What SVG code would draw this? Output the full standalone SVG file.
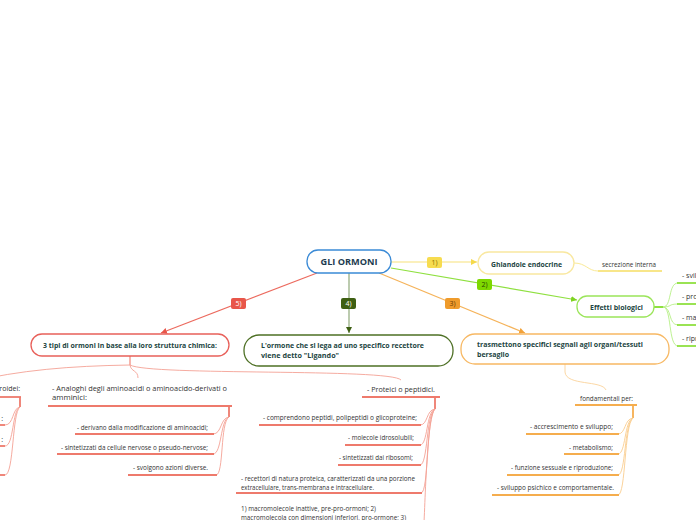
<svg xmlns="http://www.w3.org/2000/svg" width="696" height="520" viewBox="0 0 696 520">
<defs>
<marker id="aY" viewBox="0 0 6 6" refX="6" refY="3" markerWidth="6" markerHeight="6" markerUnits="userSpaceOnUse" orient="auto"><path d="M0,0 L6,3 L0,6 z" fill="#f5d949"/></marker>
<marker id="aG" viewBox="0 0 6 6" refX="6" refY="3" markerWidth="6" markerHeight="6" markerUnits="userSpaceOnUse" orient="auto"><path d="M0,0 L6,3 L0,6 z" fill="#7ed321"/></marker>
<marker id="aO" viewBox="0 0 6 6" refX="6" refY="3" markerWidth="6" markerHeight="6" markerUnits="userSpaceOnUse" orient="auto"><path d="M0,0 L6,3 L0,6 z" fill="#f2a23a"/></marker>
<marker id="aD" viewBox="0 0 6 6" refX="6" refY="3" markerWidth="6" markerHeight="6" markerUnits="userSpaceOnUse" orient="auto"><path d="M0,0 L6,3 L0,6 z" fill="#3e5f13"/></marker>
<marker id="aR" viewBox="0 0 6 6" refX="6" refY="3" markerWidth="6" markerHeight="6" markerUnits="userSpaceOnUse" orient="auto"><path d="M0,0 L6,3 L0,6 z" fill="#e8564a"/></marker>
</defs>
<style>
text{font-family:"Open Sans","Noto Sans","DejaVu Sans",sans-serif}
.nt{font-size:7.5px;font-weight:bold;fill:#22453f}
.tx{font-size:7px;fill:#333}
.lb{font-size:7px;fill:#fff;text-anchor:middle}
.box{fill:#fff;stroke-width:1.3}
.c{fill:none;stroke-width:1.2}
.thin{fill:none;stroke-width:0.9}
.ul{fill:none;stroke-width:1.8}
</style>

<g id="connectors">
<!-- main -->
<line class="c" x1="391" y1="262" x2="477" y2="262" stroke="#f7e27a" marker-end="url(#aY)"/>
<line class="c" x1="391" y1="268" x2="577" y2="300" stroke="#8fe040" marker-end="url(#aG)"/>
<line class="c" x1="379" y1="273" x2="525" y2="333" stroke="#f5b35a" marker-end="url(#aO)"/>
<line class="c" x1="349" y1="273" x2="349" y2="333" stroke="#8fa87a" marker-end="url(#aD)"/>
<line class="c" x1="317" y1="273" x2="161" y2="333" stroke="#ec6a5e" marker-end="url(#aR)"/>
<!-- labels -->
<g><rect x="427" y="257" width="15" height="11" rx="2" fill="#f7dc4f"/><text class="lb" x="434.5" y="265" fill="#6b5a00" style="fill:#8a7300">1)</text></g>
<g><rect x="477" y="279" width="15" height="11" rx="2" fill="#7ed800"/><text class="lb" x="484.5" y="287" style="fill:#2b4a00">2)</text></g>
<g><rect x="445" y="298" width="15" height="11" rx="2" fill="#ef9b2b"/><text class="lb" x="452.5" y="306" style="fill:#6a3a00">3)</text></g>
<g><rect x="341" y="298" width="15" height="11" rx="2" fill="#3e5f13"/><text class="lb" x="348.5" y="306">4)</text></g>
<g><rect x="231" y="298" width="15" height="11" rx="2" fill="#e8564a"/><text class="lb" x="238.5" y="306">5)</text></g>

<!-- ghiandole -> secrezione -->
<path class="thin" d="M574,263 C586,263 588,271 598,271" stroke="#f8e68a"/>
<line class="ul" x1="598" y1="271" x2="662" y2="271" stroke="#f8e68a"/>

<!-- effetti fan -->
<line x1="654" y1="307" x2="663" y2="307" stroke="#8fe040" stroke-width="2"/>
<g stroke="#b6ef85" class="thin">
<path d="M663,307 C672,307 668,283 678,283"/>
<path d="M663,307 C672,307 668,304 678,304"/>
<path d="M663,307 C672,307 668,325 678,325"/>
<path d="M663,307 C672,307 668,346 678,346"/>
</g>
<g stroke="#8fe040" class="ul">
<line x1="677" y1="283" x2="700" y2="283"/>
<line x1="677" y1="304" x2="700" y2="304"/>
<line x1="677" y1="325" x2="700" y2="325"/>
<line x1="677" y1="346" x2="700" y2="346"/>
</g>

<!-- 3 tipi branches -->
<line x1="130" y1="356" x2="130" y2="365" stroke="#f08577" stroke-width="1.2"/>
<g stroke="#f4a195" class="thin">
<path d="M130,365 C70,366 20,370 -30,382"/>
<path d="M130,365 C131,372 138,370 138,378"/>
<path d="M130,365 C150,376 390,368 401,380"/>
</g>

<!-- steroid -->
<line class="ul" x1="-10" y1="397" x2="21" y2="397" stroke="#ee7a6c"/>
<line x1="20" y1="397" x2="20" y2="407" stroke="#ee7a6c" stroke-width="1.8"/>
<g stroke="#f4a195" class="thin">
<path d="M20,407 C12,408 14,425 5,425"/>
<path d="M20,407 C12,410 14,446 5,446"/>
<path d="M20,407 C12,412 14,475 5,475"/>
</g>
<g stroke="#ee7a6c" class="ul">
<line x1="-10" y1="425" x2="5" y2="425"/>
<line x1="-10" y1="446" x2="5" y2="446"/>
<line x1="-10" y1="475" x2="5" y2="475"/>
</g>

<!-- analoghi -->
<line class="ul" x1="48" y1="406" x2="232" y2="406" stroke="#ee7a6c"/>
<line x1="229" y1="406" x2="229" y2="417" stroke="#ee7a6c" stroke-width="1.8"/>
<g stroke="#f4a195" class="thin">
<path d="M229,417 C220,418 222,434 213,434"/>
<path d="M229,417 C220,420 222,454 213,454"/>
<path d="M229,417 C220,422 224,475 216,475"/>
</g>
<g stroke="#ee7a6c" class="ul">
<line x1="75" y1="434" x2="214" y2="434"/>
<line x1="57" y1="454" x2="214" y2="454"/>
<line x1="128" y1="475" x2="217" y2="475"/>
</g>

<!-- proteici -->
<line class="ul" x1="362" y1="397" x2="440" y2="397" stroke="#ee7a6c"/>
<line x1="435" y1="397" x2="435" y2="409" stroke="#ee7a6c" stroke-width="1.8"/>
<g stroke="#f4a195" class="thin">
<path d="M435,409 C426,410 428,425 420,425"/>
<path d="M435,409 C426,412 428,445 420,445"/>
<path d="M435,409 C426,414 428,465 420,465"/>
<path d="M435,409 C426,416 429,493 421,493"/>
<path d="M435,409 C426,418 425,520 423,540"/>
</g>
<g stroke="#ee7a6c" class="ul">
<line x1="259" y1="425" x2="421" y2="425"/>
<line x1="345" y1="445" x2="421" y2="445"/>
<line x1="338" y1="465" x2="421" y2="465"/>
<line x1="236" y1="493" x2="422" y2="493"/>
</g>

<!-- trasmettono -> fondamentali -->
<path class="thin" d="M565,364 L565,372 C566,386 602,380 606,390" stroke="#fad39a" stroke-width="1.2"/>
<line class="ul" x1="575" y1="405" x2="637" y2="405" stroke="#f5ad4e"/>
<line x1="633" y1="405" x2="633" y2="418" stroke="#f5ad4e" stroke-width="1.8"/>
<g stroke="#f9cd8e" class="thin">
<path d="M633,418 C624,419 626,434 618,434"/>
<path d="M633,418 C624,421 626,454 618,454"/>
<path d="M633,418 C624,423 626,475 618,475"/>
<path d="M633,418 C624,425 626,495 618,495"/>
</g>
<g stroke="#f5ad4e" class="ul">
<line x1="526" y1="434" x2="619" y2="434"/>
<line x1="564" y1="454" x2="619" y2="454"/>
<line x1="507" y1="475" x2="619" y2="475"/>
<line x1="492" y1="495" x2="619" y2="495"/>
</g>
</g>

<g id="n-gli-ormoni">
<rect class="box" x="307" y="250" width="84" height="23" rx="11" stroke="#3a8ad6"/>
<text x="349" y="264.5" text-anchor="middle" style="font-size:9.5px;font-weight:bold;fill:#1d3b4f" textLength="57" lengthAdjust="spacingAndGlyphs">GLI ORMONI</text>
</g>

<g id="n-ghiandole">
<rect class="box" x="478" y="252" width="96" height="22" rx="11" stroke="#f9e8a0"/>
<text class="nt" x="491" y="266.5" textLength="71" lengthAdjust="spacingAndGlyphs">Ghiandole endocrine</text>
</g>
<g id="n-secrezione">
<text class="tx" x="602" y="266.5" textLength="54" lengthAdjust="spacingAndGlyphs">secrezione interna</text>
</g>

<g id="n-effetti">
<rect class="box" x="577" y="296" width="77" height="21" rx="10" stroke="#9be55a"/>
<text class="nt" x="590" y="309.5" textLength="53" lengthAdjust="spacingAndGlyphs">Effetti biologici</text>
</g>
<g id="n-effetti-children">
<text class="tx" x="682" y="277.5">- svil</text>
<text class="tx" x="682" y="298.5">- pro</text>
<text class="tx" x="682" y="319.5">- ma</text>
<text class="tx" x="682" y="340.5">- ripr</text>
</g>

<g id="n-trasmettono">
<rect class="box" x="461" y="334" width="208" height="30" rx="14" stroke="#f7b863"/>
<text class="nt" x="477" y="346.5" textLength="166" lengthAdjust="spacingAndGlyphs">trasmettono specifici segnali agli organi/tessuti</text>
<text class="nt" x="477" y="357" textLength="32" lengthAdjust="spacingAndGlyphs">bersaglio</text>
</g>

<g id="n-ligando">
<rect class="box" x="244" y="335" width="209" height="31" rx="15" stroke="#4e7025"/>
<text class="nt" x="261" y="347.5" textLength="163" lengthAdjust="spacingAndGlyphs">L'ormone che si lega ad uno specifico recettore</text>
<text class="nt" x="261" y="358" textLength="78" lengthAdjust="spacingAndGlyphs">viene detto "Ligando"</text>
</g>

<g id="n-3tipi">
<rect class="box" x="31" y="334" width="198" height="22" rx="11" stroke="#e8605a"/>
<text class="nt" x="43" y="347.5" textLength="174" lengthAdjust="spacingAndGlyphs">3 tipi di ormoni in base alla loro struttura chimica:</text>
</g>

<g id="n-steroidei">
<text class="tx" x="20" y="391" text-anchor="end">- Steroidei:</text>
<text class="tx" x="3" y="421" text-anchor="end">:</text>
<text class="tx" x="3" y="442" text-anchor="end">:</text>
</g>

<g id="n-analoghi">
<text class="tx" x="52" y="391" textLength="175" lengthAdjust="spacingAndGlyphs">- Analoghi degli aminoacidi o aminoacido-derivati o</text>
<text class="tx" x="52" y="400" textLength="35" lengthAdjust="spacingAndGlyphs">amminici:</text>
<text class="tx" x="77" y="429.5" textLength="131" lengthAdjust="spacingAndGlyphs">- derivano dalla modificazione di aminoacidi;</text>
<text class="tx" x="61" y="449.5" textLength="147" lengthAdjust="spacingAndGlyphs">- sintetizzati da cellule nervose o pseudo-nervose;</text>
<text class="tx" x="133" y="469.5" textLength="75" lengthAdjust="spacingAndGlyphs">- svolgono azioni diverse.</text>
</g>

<g id="n-proteici">
<text class="tx" x="367" y="391.5" textLength="68" lengthAdjust="spacingAndGlyphs">- Proteici o peptidici.</text>
<text class="tx" x="263" y="419.5" textLength="154" lengthAdjust="spacingAndGlyphs">- comprendono peptidi, polipeptidi o glicoproteine;</text>
<text class="tx" x="348" y="439.5" textLength="66" lengthAdjust="spacingAndGlyphs">- molecole idrosolubili;</text>
<text class="tx" x="339" y="459.5" textLength="74" lengthAdjust="spacingAndGlyphs">- sintetizzati dai ribosomi;</text>
<text class="tx" x="241" y="481" textLength="174" lengthAdjust="spacingAndGlyphs">- recettori di natura proteica, caratterizzati da una porzione</text>
<text class="tx" x="241" y="490" textLength="133" lengthAdjust="spacingAndGlyphs">extracellulare, trans-membrana e intracellulare.</text>
<text class="tx" x="241" y="510.5" textLength="135" lengthAdjust="spacingAndGlyphs">1) macromolecole inattive, pre-pro-ormoni; 2)</text>
<text class="tx" x="241" y="519.5" textLength="165" lengthAdjust="spacingAndGlyphs">macromolecola con dimensioni inferiori, pro-ormone; 3)</text>
</g>

<g id="n-fondamentali">
<text class="tx" x="580" y="400.5" textLength="53" lengthAdjust="spacingAndGlyphs">fondamentali per:</text>
<text class="tx" x="530" y="428.5" textLength="83" lengthAdjust="spacingAndGlyphs">- accrescimento e sviluppo;</text>
<text class="tx" x="569" y="449.5" textLength="44" lengthAdjust="spacingAndGlyphs">- metabolismo;</text>
<text class="tx" x="511" y="469.5" textLength="102" lengthAdjust="spacingAndGlyphs">- funzione sessuale e riproduzione;</text>
<text class="tx" x="497" y="489.5" textLength="117" lengthAdjust="spacingAndGlyphs">- sviluppo psichico e comportamentale.</text>
</g>
</svg>
